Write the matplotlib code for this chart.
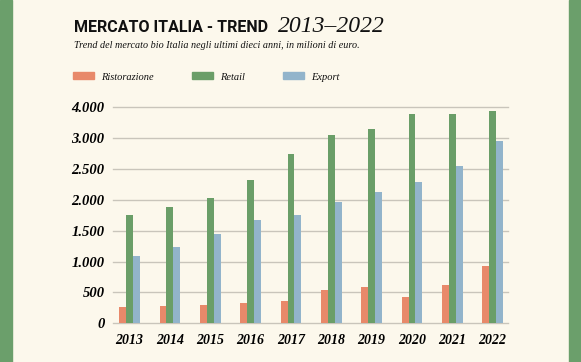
import numpy as np
import matplotlib
matplotlib.use("Agg")
import matplotlib.pyplot as plt
from matplotlib.patches import Rectangle

# -------------------------------
# DATA (milioni di euro)
# -------------------------------
years = ["2013", "2014", "2015", "2016", "2017", "2018", "2019", "2020", "2021", "2022"]
ristorazione = [259, 276, 303, 335, 368, 535, 584, 427, 616, 935]
retail = [1762, 1881, 2027, 2314, 2746, 3049, 3151, 3389, 3389, 3443]
export = [1097, 1243, 1443, 1681, 1757, 1973, 2130, 2297, 2546, 2946]

# tick labels as printed on the original (top one reads 4.000)
ytick_pos = [0, 500, 1000, 1500, 2000, 2500, 3000, 3500]
ytick_labels = ["0", "500", "1.000", "1.500", "2.000", "2.500", "3.000", "4.000"]

series_names = ["Ristorazione", "Retail", "Export"]

# -------------------------------
# STYLE
# -------------------------------
BG = "#fcf8ec"
BORDER = "#6b9f6b"
C_RIST = "#e8896a"
C_RET = "#6a9e68"
C_EXP = "#92b4cb"
GRID = "#c9c5bb"
SERIF = ["Liberation Serif", "DejaVu Serif"]
TITLE_FONT = ["Roboto", "DejaVu Sans"]

fig = plt.figure(figsize=(5.81, 3.62), dpi=100, facecolor=BG)

# green side bands
fig.patches.append(Rectangle((0, 0), 12 / 581, 1, transform=fig.transFigure,
                             color=BORDER, zorder=0))
fig.patches.append(Rectangle((569 / 581, 0), 12 / 581, 1, transform=fig.transFigure,
                             color=BORDER, zorder=0))

ax = fig.add_axes([113 / 581, 38.7 / 362, 395 / 581, 216 / 362])
ax.set_facecolor(BG)

x = np.arange(len(years))
w = 0.17
ax.bar(x - w, ristorazione, w, color=C_RIST, zorder=3)
ax.bar(x, retail, w, color=C_RET, zorder=3)
ax.bar(x + w, export, w, color=C_EXP, zorder=3)

ax.set_xlim(-0.41, 9.38)
ax.set_ylim(0, 3500)
ax.set_yticks(ytick_pos)
ax.set_yticklabels(ytick_labels)
ax.set_xticks(x)
ax.set_xticklabels(years)

for yv in ytick_pos[1:]:
    ax.axhline(yv, color=GRID, lw=1, zorder=1, clip_on=False)

for s in ["top", "right", "left"]:
    ax.spines[s].set_visible(False)
ax.spines["bottom"].set_color(GRID)
ax.spines["bottom"].set_linewidth(1)

ax.tick_params(axis="both", length=0)
ax.tick_params(axis="y", pad=6)
ax.tick_params(axis="x", pad=8)
for lab in ax.get_yticklabels():
    lab.set_fontfamily(SERIF)
    lab.set_fontsize(10.5)
    lab.set_fontweight("bold")
    lab.set_fontstyle("italic")
for lab in ax.get_xticklabels():
    lab.set_fontfamily(SERIF)
    lab.set_fontsize(10)
    lab.set_fontweight("bold")
    lab.set_fontstyle("italic")

# -------------------------------
# TITLES
# -------------------------------
title = fig.text(74 / 581, 1 - 31.7 / 362, "MERCATO ITALIA - TREND",
                 family=TITLE_FONT, fontweight="bold",
                 fontsize=14, va="baseline", ha="left", color="#111111")
# shrink the title so it ends where the original does (~x=268 px)
renderer = fig.canvas.get_renderer()
tw = title.get_window_extent(renderer).width
title.set_fontsize(14 * 194 / tw)

fig.text(278 / 581, 1 - 32.3 / 362, "2013\u20132022", family=SERIF,
         fontstyle="italic", fontsize=17, va="baseline", ha="left", color="#111111")
fig.text(74 / 581, 1 - 47.7 / 362,
         "Trend del mercato bio Italia negli ultimi dieci anni, in milioni di euro.",
         family=SERIF, fontstyle="italic", fontsize=7.3, va="baseline", ha="left",
         color="#111111")

# -------------------------------
# LEGEND (manual)
# -------------------------------
legend_x = [72.7, 191.7, 283.3]
legend_cols = [C_RIST, C_RET, C_EXP]
for lx, col, name in zip(legend_x, legend_cols, series_names):
    fig.patches.append(Rectangle((lx / 581, 1 - 79 / 362), 21 / 581, 7 / 362,
                                 transform=fig.transFigure, color=col))
    fig.text((lx + 28) / 581, 1 - 80 / 362, name, family=SERIF, fontstyle="italic",
             fontsize=7.5, va="baseline", ha="left", color="#111111")

fig.savefig("out.png", dpi=100, facecolor=BG)
plt.close(fig)
